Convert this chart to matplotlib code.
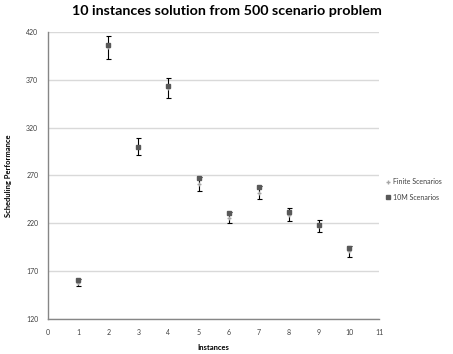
import matplotlib
matplotlib.use("Agg")
import matplotlib.pyplot as plt

# ---------------------------------------------------------------------------
# Data
# ---------------------------------------------------------------------------
instances = [1, 2, 3, 4, 5, 6, 7, 8, 9, 10]
finite_vals = [158, 404, 300, 361, 261, 226, 252, 229, 217, 190.5]
finite_err = [4, 12, 9, 10.5, 7.5, 6, 6.5, 6.5, 6, 5.5]
tenm_vals = [161, 406, 300, 363, 267, 231, 258, 232, 218, 194]

x_ticks = list(range(0, 12))
y_ticks = [120, 170, 220, 270, 320, 370, 420]

plt.rcParams["font.family"] = ["Lato", "DejaVu Sans"]

fig = plt.figure(figsize=(4.53, 3.54), dpi=100)
ax = fig.add_axes([0.106, 0.099, 0.731, 0.811])

ax.errorbar(instances, finite_vals, yerr=finite_err, fmt="none",
            ecolor="black", elinewidth=0.8, capsize=1.8, capthick=0.8, zorder=3)
ax.plot(instances, finite_vals, linestyle="none", marker="+", markersize=3,
        markeredgewidth=1.0, color="#a6a6a6", label="Finite Scenarios", zorder=4)
ax.plot(instances, tenm_vals, linestyle="none", marker="s", markersize=3,
        color="#595959", label="10M Scenarios", zorder=5)

ax.set_xlim(0, 11)
ax.set_ylim(120, 420)
ax.set_xticks(x_ticks)
ax.set_yticks(y_ticks)
ax.tick_params(axis="both", length=0, labelsize=5, colors="#404040", pad=7)
ax.yaxis.grid(True, color="#d9d9d9", linewidth=1)
ax.set_axisbelow(True)
for side in ["top", "right"]:
    ax.spines[side].set_visible(False)
for side in ["left", "bottom"]:
    ax.spines[side].set_color("#868686")
    ax.spines[side].set_linewidth(1)

ax.set_xlabel("Instances", fontsize=5.5, fontweight="bold", labelpad=6)
ax.set_ylabel("Scheduling Performance", fontsize=5.5, fontweight="bold", labelpad=10)
fig.suptitle("10 instances solution from 500 scenario problem",
             fontsize=10.3, fontweight="bold", x=0.5, y=0.985)

fig.legend(loc="center left", bbox_to_anchor=(0.838, 0.465), frameon=False,
           fontsize=5, handlelength=0.5, handletextpad=0.5, labelspacing=1.2,
           labelcolor="#404040")

fig.savefig("out.png", dpi=100)
